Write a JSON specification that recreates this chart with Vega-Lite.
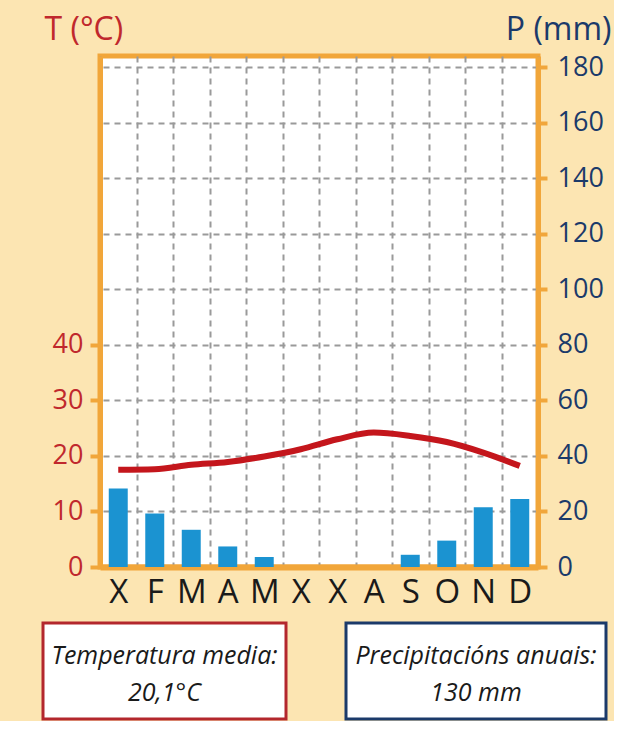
{
  "$schema": "https://vega.github.io/schema/vega-lite/v6.json",
  "background": "#fce5b2",
  "padding": {"left": 41, "top": 10, "right": 0, "bottom": 0},
  "config": {
    "font": "Open Sans",
    "view": {"stroke": null}
  },
  "datasets": {
    "clima": [
      {"mes": "Xaneiro", "temp": 17.5, "prec": 28.3},
      {"mes": "Febreiro", "temp": 17.6, "prec": 19.3},
      {"mes": "Marzo", "temp": 18.4, "prec": 13.4},
      {"mes": "Abril", "temp": 18.9, "prec": 7.4},
      {"mes": "Maio", "temp": 19.9, "prec": 3.6},
      {"mes": "Xuño", "temp": 21.2, "prec": 0},
      {"mes": "Xullo", "temp": 23.0, "prec": 0},
      {"mes": "Agosto", "temp": 24.2, "prec": 0},
      {"mes": "Setembro", "temp": 23.6, "prec": 4.4},
      {"mes": "Outubro", "temp": 22.5, "prec": 9.5},
      {"mes": "Novembro", "temp": 20.6, "prec": 21.5},
      {"mes": "Decembro", "temp": 18.2, "prec": 24.5}
    ],
    "baleiro": [{"t": ""}],
    "temperatura": [{"t": ["Temperatura media:", "20,1°C"]}],
    "precipitacion": [{"t": ["Precipitacións anuais:", "130 mm"]}]
  },
  "spacing": 9,
  "vconcat": [
    {
      "spacing": 0,
      "bounds": "flush",
      "hconcat": [
        {
          "width": 57,
          "height": 511,
          "data": {"name": "baleiro"},
          "mark": {"type": "text"},
          "encoding": {"text": {"field": "t", "type": "nominal"}}
        },
        {
          "width": 438,
          "height": 511,
          "view": {"fill": "white", "stroke": "#f1a63a", "strokeWidth": 5},
          "data": {"name": "clima"},
          "encoding": {
            "x": {
              "field": "mes",
              "type": "nominal",
              "sort": null,
              "scale": {"paddingInner": 0, "paddingOuter": 0},
              "axis": {
                "title": null,
                "labelAngle": 0,
                "labelExpr": "slice(datum.label, 0, 1)",
                "labelFontSize": 33,
                "labelColor": "#1a1a1a",
                "labelPadding": 9,
                "ticks": false,
                "tickBand": "extent",
                "grid": true,
                "gridColor": "#9a9a9a",
                "gridDash": [6, 5],
                "gridWidth": 2,
                "domainColor": "#f1a63a",
                "domainWidth": 6
              }
            }
          },
          "layer": [
            {
              "mark": {"type": "bar", "width": {"band": 0.52}, "color": "#1b93d1"},
              "encoding": {
                "y": {
                  "field": "prec",
                  "type": "quantitative",
                  "scale": {"domain": [0, 184], "nice": false},
                  "axis": {
                    "orient": "right",
                    "title": "P (mm)",
                    "titleAngle": 0,
                    "titleAlign": "right",
                    "titleBaseline": "alphabetic",
                    "titleX": 73,
                    "titleY": -17,
                    "titleColor": "#1b3a6a",
                    "titleFontSize": 32,
                    "titleFontWeight": "normal",
                    "values": [0, 20, 40, 60, 80, 100, 120, 140, 160, 180],
                    "labelColor": "#1b3a6a",
                    "labelFontSize": 27,
                    "labelPadding": 10,
                    "tickColor": "#f1a63a",
                    "tickWidth": 4,
                    "tickSize": 9,
                    "domainColor": "#f1a63a",
                    "domainWidth": 5,
                    "grid": true,
                    "gridColor": "#9a9a9a",
                    "gridDash": [6, 5],
                    "gridWidth": 2
                  }
                }
              }
            },
            {
              "mark": {"type": "line", "color": "#c4161c", "strokeWidth": 6, "interpolate": "monotone"},
              "encoding": {
                "y": {
                  "field": "temp",
                  "type": "quantitative",
                  "scale": {"domain": [0, 92], "nice": false},
                  "axis": {
                    "orient": "left",
                    "title": "T (°C)",
                    "titleAngle": 0,
                    "titleAlign": "left",
                    "titleBaseline": "alphabetic",
                    "titleX": -56,
                    "titleY": -17,
                    "titleColor": "#c0282d",
                    "titleFontSize": 32,
                    "titleFontWeight": "normal",
                    "values": [0, 10, 20, 30, 40],
                    "labelColor": "#c0282d",
                    "labelFontSize": 27,
                    "labelPadding": 7,
                    "tickColor": "#f1a63a",
                    "tickWidth": 4,
                    "tickSize": 10,
                    "domainColor": "#f1a63a",
                    "domainWidth": 5,
                    "grid": false
                  }
                }
              }
            }
          ],
          "resolve": {"scale": {"y": "independent"}}
        }
      ]
    },
    {
      "spacing": 56,
      "hconcat": [
        {
          "width": 243,
          "height": 96,
          "view": {"fill": "white", "stroke": "#b3272d", "strokeWidth": 3},
          "data": {"name": "temperatura"},
          "mark": {"type": "text", "fontStyle": "italic", "fontSize": 25, "lineHeight": 37, "color": "#1a1a1a", "baseline": "middle", "dy": -15},
          "encoding": {"text": {"field": "t", "type": "nominal"}}
        },
        {
          "width": 260,
          "height": 96,
          "view": {"fill": "white", "stroke": "#1b3a6a", "strokeWidth": 3},
          "data": {"name": "precipitacion"},
          "mark": {"type": "text", "fontStyle": "italic", "fontSize": 25, "lineHeight": 37, "color": "#1a1a1a", "baseline": "middle", "dy": -15},
          "encoding": {"text": {"field": "t", "type": "nominal"}}
        }
      ]
    }
  ]
}
